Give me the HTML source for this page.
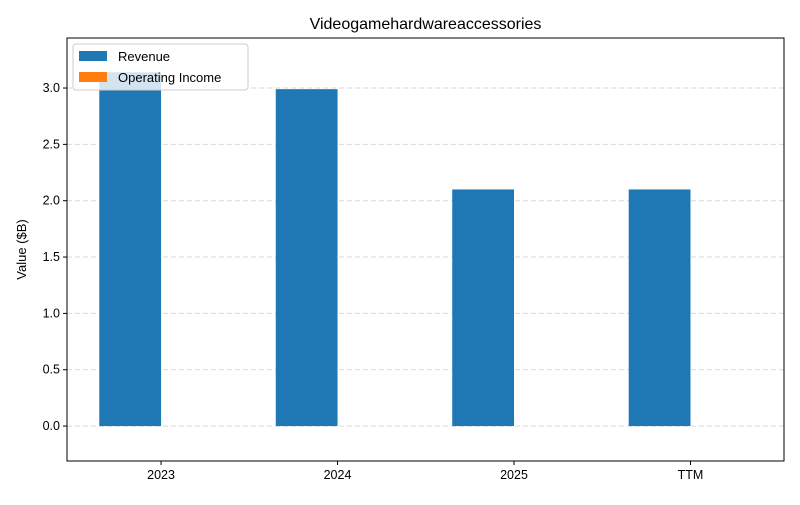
<!DOCTYPE html>
<html><head><meta charset="utf-8"><style>
body{margin:0;background:#fff;font-family:"Liberation Sans","DejaVu Sans",sans-serif}
</style></head><body>
<svg id="chart" width="800" height="500" xmlns="http://www.w3.org/2000/svg"></svg>
<script>
const categories=["2023","2024","2025","TTM"];
const revenue=[3.14,2.99,2.1,2.1];
const opIncome=[0,0,0,0];
const yTicks=[0,0.5,1.0,1.5,2.0,2.5,3.0];
const NS="http://www.w3.org/2000/svg";
const svg=document.getElementById('chart');
const L=67,R=784,T=38,B=461;
const xmin=-0.533,xmax=3.53,ymin=-0.31,ymax=3.444;
const xs=v=>L+(v-xmin)/(xmax-xmin)*(R-L);
const ys=v=>B-(v-ymin)/(ymax-ymin)*(B-T);
function mk(tag,attrs,parent){const e=document.createElementNS(NS,tag);for(const k in attrs)e.setAttribute(k,attrs[k]);(parent||svg).appendChild(e);return e;}
yTicks.forEach(t=>{
 const g=mk('line',{x1:L,x2:R,y1:ys(t),y2:ys(t),stroke:'#d9d9d9','stroke-dasharray':'5,3','stroke-width':1});
 
 
 const tk=mk('line',{x1:L-4,x2:L,y1:ys(t),y2:ys(t),stroke:'#000'});
 
 
 const tx=mk('text',{x:L-7,y:ys(t)+4,'text-anchor':'end','font-size':12.5,fill:'#000'});
 tx.textContent=t.toFixed(1);
 
 
});
const w=0.35;
categories.forEach((c,i)=>{
 const x0=xs(i-w),x1=xs(i),x2=xs(i+w);
 const r=mk('rect',{x:x0,y:ys(revenue[i]),width:x1-x0,height:ys(0)-ys(revenue[i]),fill:'#1f77b4'});
 
 
 const top=Math.min(ys(opIncome[i]),ys(0)),h=Math.abs(ys(0)-ys(opIncome[i]));
 const o=mk('rect',{x:x1,y:top,width:x2-x1,height:h,fill:'#ff7f0e'});
 
 
 const tk=mk('line',{x1:xs(i),x2:xs(i),y1:B,y2:B+4,stroke:'#000'});
 
 
 const tx=mk('text',{x:xs(i),y:B+18,'text-anchor':'middle','font-size':12.5,fill:'#000'});
 tx.textContent=c;
 
 
});
const frame=mk('rect',{x:L,y:T,width:R-L,height:B-T,fill:'none',stroke:'#000','stroke-width':1});


const title=mk('text',{x:(L+R)/2,y:29,'text-anchor':'middle','font-size':16,fill:'#000'});
title.textContent='Videogamehardwareaccessories';


const yl=mk('text',{x:0,y:0,'text-anchor':'middle','font-size':13,fill:'#000',transform:`translate(26,${(T+B)/2}) rotate(-90)`});
yl.textContent='Value ($B)';


const lg=mk('g',{});


mk('rect',{x:73,y:44,width:175,height:46,rx:3,fill:'#fff','fill-opacity':0.8,stroke:'#ccc'},lg);
const e1=mk('rect',{x:79,y:51,width:28,height:10,fill:'#1f77b4'},lg);


const t1=mk('text',{x:118,y:61,'font-size':13,fill:'#000'},lg);t1.textContent='Revenue';


const e2=mk('rect',{x:79,y:72,width:28,height:10,fill:'#ff7f0e'},lg);


const t2=mk('text',{x:118,y:82,'font-size':13,fill:'#000'},lg);t2.textContent='Operating Income';


</script>
</body></html>
